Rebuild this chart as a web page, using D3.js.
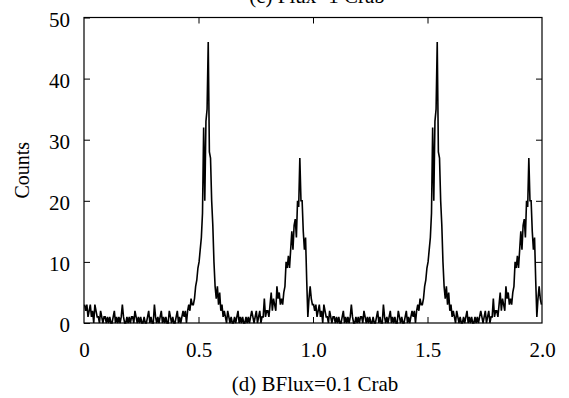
<!DOCTYPE html>
<html>
<head>
<meta charset="utf-8">
<script src="https://cdn.jsdelivr.net/npm/d3@7/dist/d3.min.js"></script>
<style>
  body { margin: 0; background: #fff; }
  svg text { font-family: 'Liberation Serif', 'Times New Roman', serif; fill: #000; }
</style>
</head>
<body>
<svg id="chart" width="569" height="398"></svg>
<script>
// counts per phase bin, one pulse cycle (bin width 0.005); the plot shows it twice
var counts = [
  3, 2, 3, 1, 2, 3, 1, 2, 0, 3, 2, 1,
  1, 0, 2, 1, 0, 1, 1, 0, 1,
  0, 1, 0, 0, 1, 2, 0, 1, 0, 1,
  0, 1, 3, 1, 0, 0, 1, 0, 1, 0,
  1, 1, 0, 2, 1, 0, 1, 0, 1, 0,
  0, 1, 0, 0, 1, 2, 0, 1, 0, 0,
  3, 1, 0, 1, 0, 1, 2, 0, 1, 0,
  1, 0, 0, 2, 1, 0, 1, 0, 0, 1,
  2, 0, 1, 0,
  1, 2, 1, 2, 0, 2, 3, 2, 4, 3,
  3, 4, 6, 7, 9, 10, 12, 14, 18, 32,
  20, 33, 35, 46, 28, 27, 20, 16, 10, 6,
  4, 6, 3, 5, 2, 3, 1, 2,
  1, 0, 2, 1, 0, 1, 0, 0, 1, 0,
  1, 2, 0, 1, 0, 1, 0, 0, 1, 0,
  1, 0, 1, 2, 1, 0, 1, 2, 0, 1,
  2, 0, 1, 1, 4, 1, 2,
  2, 1, 3, 5, 2, 4, 3, 2, 6, 4,
  5, 3, 4, 3, 5, 6, 10, 9, 11, 9,
  12, 15, 12, 16, 17, 14, 20, 19, 27, 20,
  20, 15, 12, 14, 7, 1, 4, 6, 4, 3
];
var binWidth = 0.005;
var cycles = 2;

var xTicks = [0, 0.5, 1.0, 1.5, 2.0];
var xTickLabels = ['0', '0.5', '1.0', '1.5', '2.0'];
var xInnerTicks = [0.5, 1.0, 1.5];
var yTicks = [0, 10, 20, 30, 40, 50];
var yInnerTicks = [10, 20, 30, 40];
var yLabel = 'Counts';
var topTitle = '(c) Flux=1 Crab';
var caption = '(d) BFlux=0.1 Crab';

var plotLeft = 84, plotRight = 542, plotTop = 17.5, plotBottom = 323;
var fontSize = 21;

var svg = d3.select('#chart');

var x = d3.scaleLinear().domain([0, 2]).range([plotLeft, plotRight]);
var y = d3.scaleLinear().domain([0, 50]).range([plotBottom, plotTop]);

var points = [];
for (var c = 0; c < cycles; c++) {
  counts.forEach(function(v, i) {
    points.push({ phase: c + (i + 0.5) * binWidth, value: v });
  });
}

var line = d3.line().
  x(function(d) { return x(d.phase); }).
  y(function(d) { return y(d.value); });

svg.append('path').
  datum(points).
  attr('d', line).
  attr('fill', 'none').
  attr('stroke', '#000').
  attr('stroke-width', 1.6).
  attr('stroke-linejoin', 'miter');

var styleAxis = function(g, labels) {
  g.select('.domain').remove();
  g.selectAll('.tick line').attr('stroke', '#000').attr('stroke-width', 1);
  g.attr('font-family', null).attr('font-size', fontSize);
  if (!labels) g.selectAll('.tick text').remove();
};

// ticks point inward on all four sides
var xAxisG = svg.append('g').
  attr('transform', 'translate(0,' + plotBottom + ')').
  call(d3.axisBottom(x).tickValues(xTicks).tickSize(-6).tickPadding(19).
    tickFormat(function(d, i) { return xTickLabels[i]; })).
  call(styleAxis, true);
xAxisG.selectAll('.tick line').filter(function(d) { return d === 0 || d === 2; }).remove();

svg.append('g').
  attr('transform', 'translate(0,' + plotTop + ')').
  call(d3.axisTop(x).tickValues(xInnerTicks).tickSize(-6)).
  call(styleAxis, false);

svg.append('g').
  attr('transform', 'translate(' + plotLeft + ',0)').
  call(d3.axisLeft(y).tickValues(yTicks).tickSize(-6).tickPadding(14)).
  call(styleAxis, true).
  selectAll('.tick text').attr('dy', '0.42em');

svg.append('g').
  attr('transform', 'translate(' + plotRight + ',0)').
  call(d3.axisRight(y).tickValues(yInnerTicks).tickSize(-6)).
  call(styleAxis, false);

svg.append('rect').
  attr('x', plotLeft).
  attr('y', plotTop).
  attr('width', plotRight - plotLeft).
  attr('height', plotBottom - plotTop).
  attr('fill', 'none').
  attr('stroke', '#000').
  attr('stroke-width', 1.2);

svg.append('text').
  attr('transform', 'translate(22,' + (plotTop + plotBottom) / 2 + ') rotate(-90)').
  attr('text-anchor', 'middle').
  attr('dy', '0.35em').
  attr('font-size', 20).
  text(yLabel);

// title of the panel above, cut off by the image edge
svg.append('text').
  attr('x', 317).
  attr('y', 3).
  attr('text-anchor', 'middle').
  attr('font-size', fontSize).
  text(topTitle);

svg.append('text').
  attr('x', 315).
  attr('y', 391).
  attr('text-anchor', 'middle').
  attr('font-size', fontSize).
  text(caption);
</script>
</body>
</html>
